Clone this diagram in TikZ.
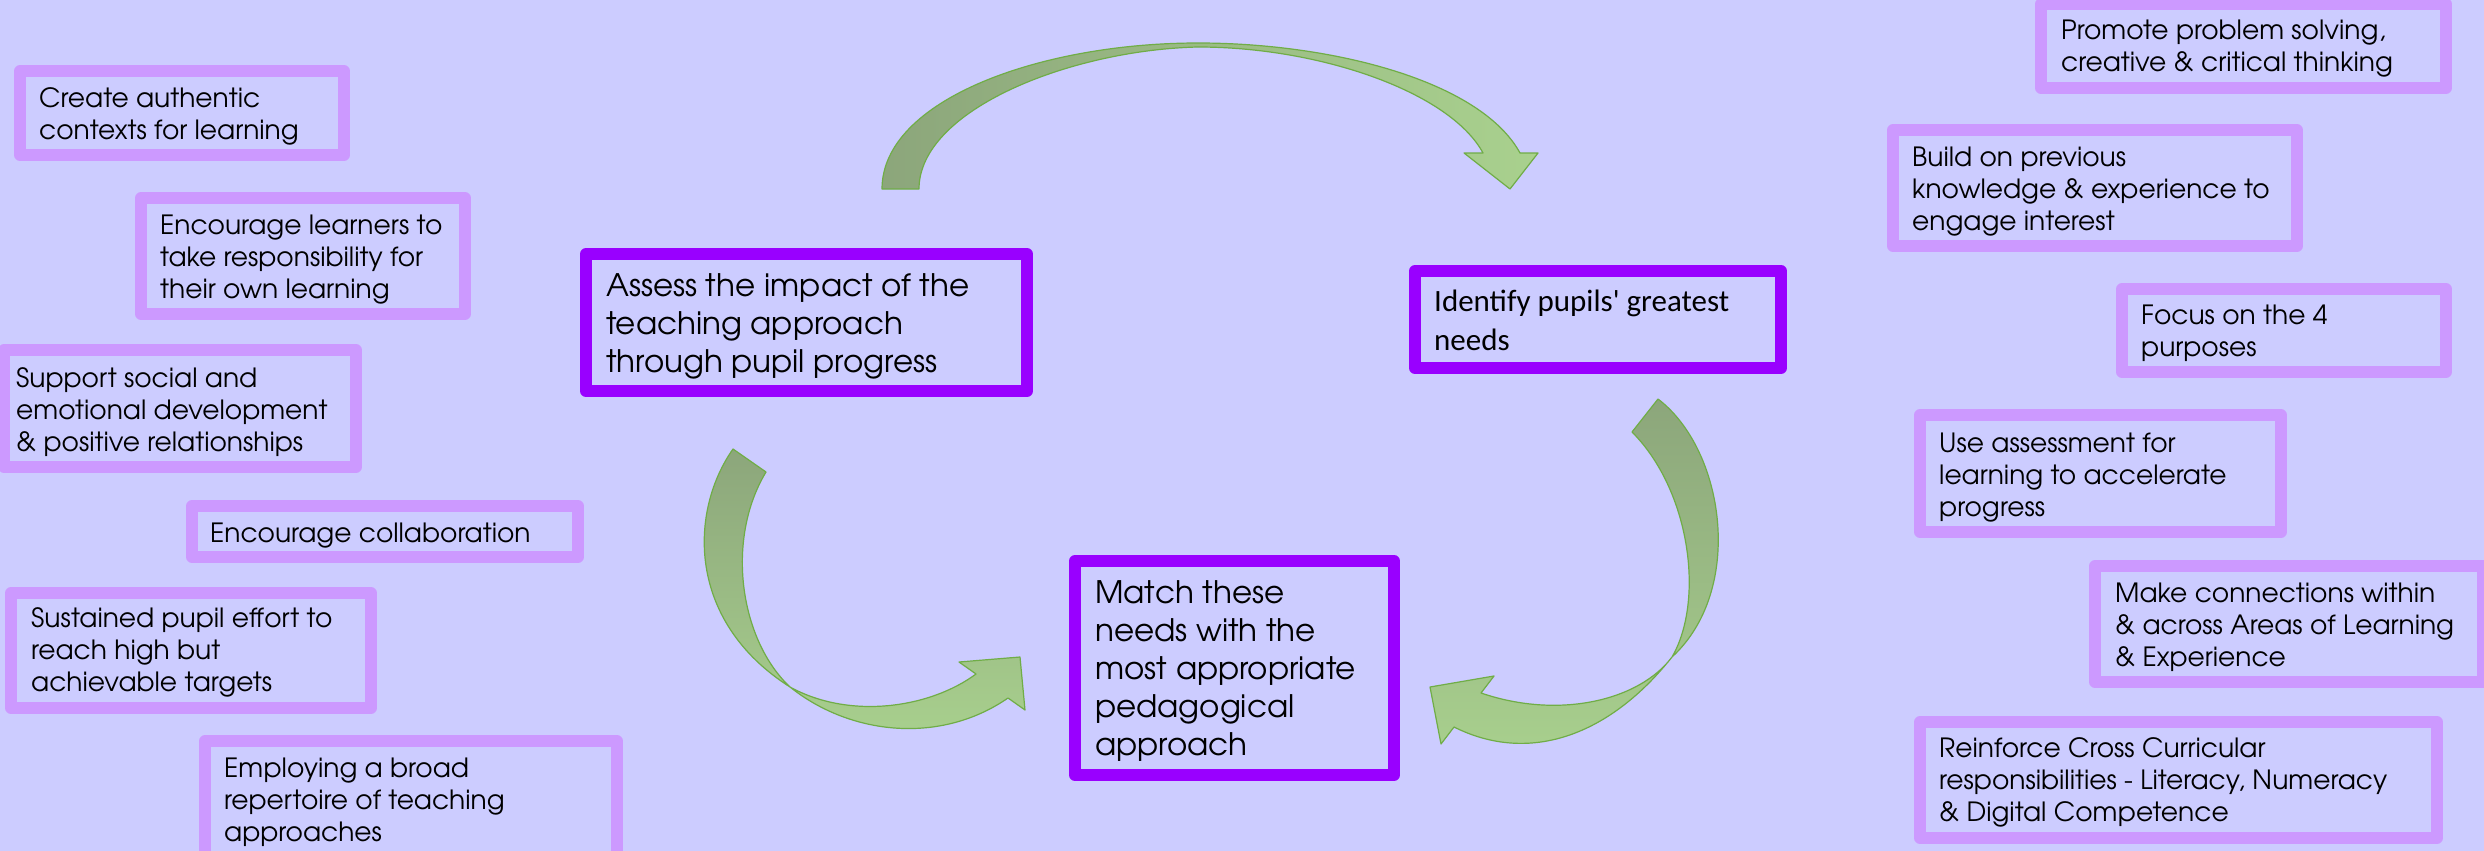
\documentclass[tikz,border=0pt]{standalone}
\usepackage{fontspec}
\newfontfamily\gothic{texgyreadventor-regular.otf}
\newfontfamily\calib{Carlito}
\definecolor{bg}{HTML}{CCCCFF}
\definecolor{lbord}{HTML}{CC99FF}
\definecolor{mbord}{HTML}{9900FF}
\definecolor{gdark}{HTML}{8CA67B}
\definecolor{glight}{HTML}{A9D18E}
\definecolor{gline}{HTML}{70AD47}
\newcommand\tx[1]{\begin{tabular}[t]{@{}l@{}}#1\end{tabular}}
\tikzset{
  lbox/.style={draw=lbord, line width=11.5pt, line join=round},
  mbox/.style={draw=mbord, line width=12pt, line join=round},
  stxt/.style={anchor=base west, inner sep=0pt, font=\gothic\fontsize{26.5}{32}\selectfont},
  mtxt/.style={anchor=base west, inner sep=0pt, font=\gothic\fontsize{31}{38}\selectfont},
  ctxt/.style={anchor=base west, inner sep=0pt, font=\calib\fontsize{31}{39}\selectfont},
  garrow/.style={draw=gline, line width=1.2pt, line join=round}
}
\begin{document}
\begin{tikzpicture}[x=1pt, y=-1pt]
\useasboundingbox (0,0) rectangle (2484,851);
\clip (0,0) rectangle (2484,851);
\fill[bg] (0,0) rectangle (2484,851);

% ---- left boxes
\draw[lbox] (20,71) rectangle (344,155);
\node[stxt] (create) at (39,107) {\tx{Create authentic\\contexts for learning}};
\draw[lbox] (141,198) rectangle (465,314);
\node[stxt] (encl) at (160,234) {\tx{Encourage learners to\\take responsibility for\\their own learning}};
\draw[lbox] (4,350) rectangle (356,467);
\node[stxt] (support) at (16,387) {\tx{Support social and\\emotional development\\\& positive relationships}};
\draw[lbox] (192,506) rectangle (578,557);
\node[stxt] (collab) at (210,542) {\tx{Encourage collaboration}};
\draw[lbox] (11,593) rectangle (371,708);
\node[stxt] (sustain) at (31,627) {\tx{Sustained pupil effort to\\reach high but\\achievable targets}};
\draw[lbox] (205,741) rectangle (617,880);
\node[stxt] (employ) at (224,777) {\tx{Employing a broad\\repertoire of teaching\\approaches}};

% ---- right boxes
\draw[lbox] (2041,4) rectangle (2446,88);
\node[stxt] (promote) at (2061,40) {\tx{Promote problem solving,\\creative \& critical thinking}};
\draw[lbox] (1893,130) rectangle (2297,246);
\node[stxt] (build) at (1912,166) {\tx{Build on previous\\knowledge \& experience to\\engage interest}};
\draw[lbox] (2122,289) rectangle (2446,372);
\node[stxt] (focus) at (2141,324) {\tx{Focus on the 4\\purposes}};
\draw[lbox] (1920,415) rectangle (2281,532);
\node[stxt] (useass) at (1939,452) {\tx{Use assessment for\\learning to accelerate\\progress}};
\draw[lbox] (2095,566) rectangle (2483,682);
\node[stxt] (connect) at (2115,602) {\tx{Make connections within\\\& across Areas of Learning\\\& Experience}};
\draw[lbox] (1920,722) rectangle (2437,838);
\node[stxt] (reinf) at (1939,757) {\tx{Reinforce Cross Curricular\\responsibilities - Literacy, Numeracy\\\& Digital Competence}};

% ---- main boxes
\draw[mbox] (586,254) rectangle (1027,391);
\node[mtxt] (assess) at (606,296) {\tx{Assess the impact of the\\teaching approach\\through pupil progress}};
\draw[mbox] (1415,271) rectangle (1781,368);
\node[ctxt] (identify) at (1434,311) {\tx{Identify pupils' greatest\\needs}};
\draw[mbox] (1075,561) rectangle (1394,775);
\node[mtxt] (match) at (1095,603) {\tx{Match these\\needs with the\\most appropriate\\pedagogical\\approach}};

% ---- curved arrows
\path[garrow, left color=gdark, right color=glight]
  (882,189) .. controls (882,100) and (1040,43) .. (1198,43)
  .. controls (1330,43) and (1480,80) .. (1520,153)
  -- (1538,153) -- (1510,189) -- (1464,153) -- (1483,153)
  .. controls (1450,92) and (1320,47) .. (1198,47)
  .. controls (1070,50) and (919,110) .. (919,189) -- cycle;

\path[garrow, top color=gdark, bottom color=glight]
  (733,449) .. controls (690,510) and (685,620) .. (790,687)
  .. controls (850,735) and (940,745) .. (1008,698)
  -- (1025,710) -- (1020,657) -- (959,662) -- (976,674)
  .. controls (930,708) and (850,720) .. (790,687)
  .. controls (740,640) and (725,540) .. (766,472) -- cycle;

\path[garrow, top color=gdark, bottom color=glight]
  (1658,399) .. controls (1725,450) and (1745,590) .. (1672,657)
  .. controls (1610,735) and (1530,765) .. (1454,727)
  -- (1441,744) -- (1430,687) -- (1494,676) -- (1481,693)
  .. controls (1560,720) and (1640,700) .. (1672,657)
  .. controls (1705,600) and (1690,490) .. (1632,432) -- cycle;
\end{tikzpicture}
\end{document}
